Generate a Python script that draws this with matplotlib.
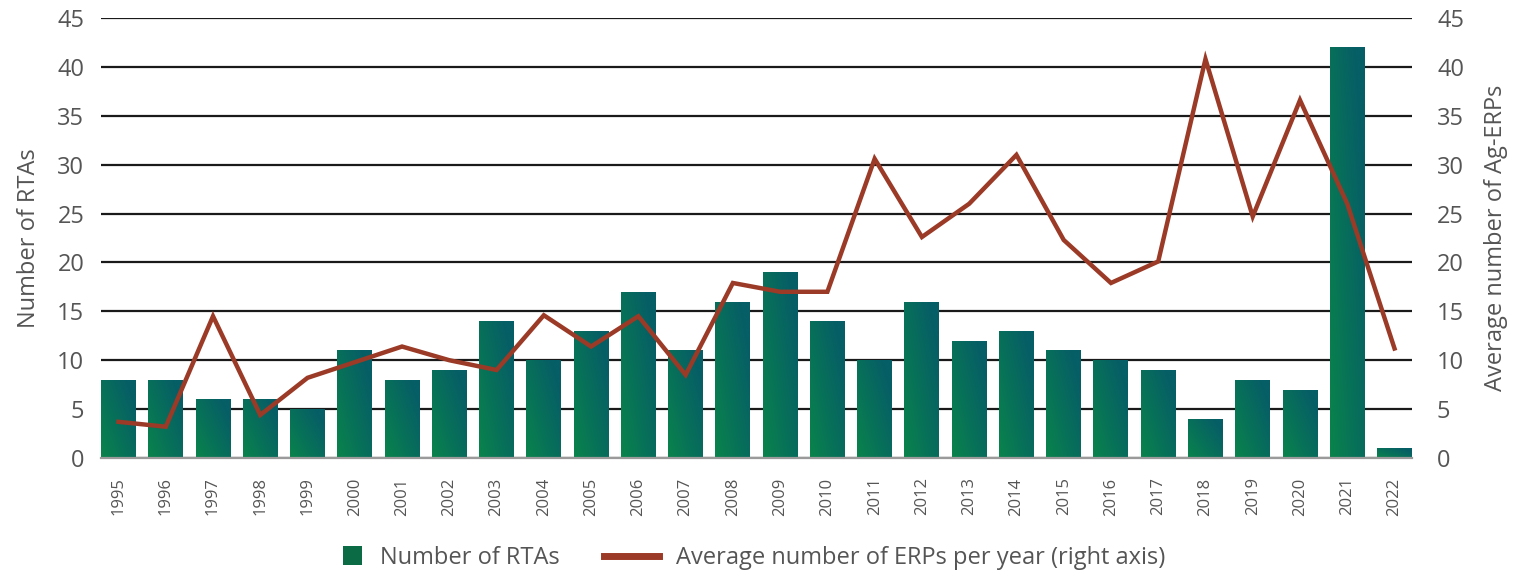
import matplotlib
matplotlib.use("Agg")
import matplotlib.pyplot as plt
import numpy as np
from matplotlib.lines import Line2D
from matplotlib.patches import Patch, Rectangle
from matplotlib.legend_handler import HandlerPatch

years = [str(y) for y in range(1995, 2023)]
rtas = [8, 8, 6, 6, 5, 11, 8, 9, 14, 10, 13, 17, 11, 16, 19, 14, 10, 16, 12, 13,
        11, 10, 9, 4, 8, 7, 42, 1]
erps = [3.7, 3.2, 14.5, 4.4, 8.2, 9.8, 11.4, 10.0, 9.0, 14.6, 11.4, 14.5, 8.5, 17.9,
        17.0, 17.0, 30.6, 22.6, 26.0, 31.0, 22.3, 17.9, 20.1, 40.8, 24.7, 36.6, 26.0, 11.2]
yticks = [0, 5, 10, 15, 20, 25, 30, 35, 40, 45]

plt.rcParams['font.family'] = ['Open Sans', 'DejaVu Sans']
text_col = '#555555'
green_a = np.array([0x0a, 0x8a, 0x46]) / 255.0
green_b = np.array([0x06, 0x5e, 0x66]) / 255.0
line_col = '#9b3a26'

fig = plt.figure(figsize=(15.14, 5.76), dpi=100)
ax = fig.add_axes([101/1514, 1-458/576, (1412-101)/1514, 440/576])

x = np.arange(len(years))
bars = ax.bar(x, rtas, width=0.74, color=green_b, zorder=2)

# diagonal gradient inside each bar
n = 64
u = np.linspace(0, 1, n)
U, V = np.meshgrid(u, u)
t = np.clip(0.55 * U + 0.45 * V + 0.15, 0, 1)
grad = green_a[None, None, :] * (1 - t[..., None]) + green_b[None, None, :] * t[..., None]
for b in bars:
    x0, w, h = b.get_x(), b.get_width(), b.get_height()
    im = ax.imshow(grad, extent=[x0, x0 + w, 0, h], origin='lower', aspect='auto',
                   zorder=3, interpolation='bilinear')
    im.set_clip_path(b)

ax.set_xlim(-0.37, len(years) - 1 + 0.37)
ax.set_ylim(0, 45)
ax.set_yticks(yticks)
ax.set_xticks(x)
ax.set_xticklabels(years, rotation=90, fontsize=12, color=text_col)
ax.tick_params(axis='y', length=0, pad=12, labelsize=17, labelcolor=text_col)
ax.tick_params(axis='x', length=0, pad=14)
ax.set_axisbelow(True)
ax.grid(axis='y', color='#1a1a1a', linewidth=1.6, zorder=0)
for s in ['top', 'left', 'right']:
    ax.spines[s].set_visible(False)
ax.spines['bottom'].set_color('#9a9a9a')
ax.spines['bottom'].set_linewidth(1.6)
ax.spines['bottom'].set_zorder(4)
ax.set_ylabel('Number of RTAs', fontsize=17, color=text_col)
ax.yaxis.set_label_coords(-0.0458, 0.5)

ax2 = ax.twinx()
ax2.plot(x, erps, color=line_col, linewidth=3.2, solid_joinstyle='miter', zorder=5)
ax2.set_ylim(0, 45)
ax2.set_yticks(yticks)
ax2.tick_params(axis='y', length=0, pad=18, labelsize=17, labelcolor=text_col)
for s in ['top', 'left', 'right', 'bottom']:
    ax2.spines[s].set_visible(False)
ax2.set_ylabel('Average number of Ag-ERPs', fontsize=17, color=text_col)
ax2.yaxis.set_label_coords(1.0549, 0.5)


def square_patch(legend, orig_handle, xdescent, ydescent, width, height, fontsize):
    s = 0.8 * fontsize
    return Rectangle((-xdescent + width - s, -ydescent + (height - s) / 2), s, s)


handles = [Patch(facecolor='#0b6b45', edgecolor='none'),
           Line2D([0], [0], color=line_col, linewidth=5)]
labels = ['Number of RTAs', 'Average number of ERPs per year (right axis)']
leg = fig.legend(handles, labels, loc='center', bbox_to_anchor=(0.4865, 0.031), ncol=2,
                 frameon=False, fontsize=17, handlelength=2.3, handleheight=0.8,
                 columnspacing=1.9, handletextpad=0.75,
                 handler_map={Patch: HandlerPatch(patch_func=square_patch)})
for t_ in leg.get_texts():
    t_.set_color(text_col)

fig.savefig('out.png', dpi=100)
